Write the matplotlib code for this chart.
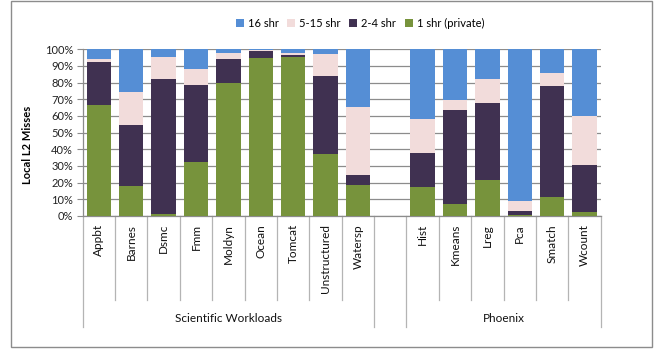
import matplotlib
matplotlib.use("Agg")
import matplotlib.pyplot as plt
from matplotlib.patches import Patch, Rectangle
from matplotlib.transforms import blended_transform_factory

# Benchmarks (an empty slot separates the two suites)
categories = ["Appbt", "Barnes", "Dsmc", "Fmm", "Moldyn", "Ocean", "Tomcat",
              "Unstructured", "Watersp", "",
              "Hist", "Kmeans", "Lreg", "Pca", "Smatch", "Wcount"]
groups = [("Scientific Workloads", 0, 8), ("Phoenix", 10, 15)]

# Share of local L2 misses (%) by number of sharers
private_1 = [66.6, 18.0, 1.2, 32.4, 79.8, 94.8, 95.4, 37.2, 18.6, 0,
             17.4, 7.2, 21.6, 0.6, 11.4, 2.4]
shr_2_4 = [25.8, 36.6, 81.0, 46.2, 14.4, 4.2, 1.2, 46.8, 6.0, 0,
           20.4, 56.4, 46.2, 2.4, 66.6, 28.2]
shr_5_15 = [1.8, 19.8, 13.2, 9.6, 3.6, 0.5, 1.2, 13.2, 40.8, 0,
            20.4, 6.0, 14.4, 6.0, 7.8, 29.4]
shr_16 = [5.8, 25.6, 4.6, 11.8, 2.2, 0.5, 2.2, 2.8, 34.6, 0,
          41.8, 30.4, 17.8, 91.0, 14.2, 40.0]

series = [("1 shr (private)", private_1, "#77933C"),
          ("2-4 shr", shr_2_4, "#403151"),
          ("5-15 shr", shr_5_15, "#F2DCDB"),
          ("16 shr", shr_16, "#558ED5")]

W, H = 662, 353
fig = plt.figure(figsize=(W / 100, H / 100), dpi=100)
plt.rcParams["font.family"] = ["Lato", "DejaVu Sans"]

def fx(px):
    return px / W

def fy(py):
    return 1 - py / H

left, right, top, bottom = 82.7, 600.7, 49.3, 216.0
ax = fig.add_axes([fx(left), fy(bottom), fx(right - left), (bottom - top) / H])

x = list(range(len(categories)))
base = [0.0] * len(categories)
for name, vals, color in series:
    ax.bar(x, vals, width=0.75, bottom=base, color=color, linewidth=0, zorder=3)
    base = [b + v for b, v in zip(base, vals)]

ax.set_xlim(-0.5, len(categories) - 0.5)
ax.set_ylim(0, 100)
ax.set_yticks(range(0, 101, 10))
ax.set_yticklabels([f"{v}%" for v in range(0, 101, 10)], fontsize=8, color="#222222")
ax.yaxis.grid(True, color="#8C8C8C", linewidth=0.9, zorder=0)
ax.set_axisbelow(True)
ax.tick_params(axis="y", length=4, width=0.8, color="#8C8C8C", pad=3)
ax.set_xticks([])
for side in ("top", "right"):
    ax.spines[side].set_visible(False)
for side in ("left", "bottom"):
    ax.spines[side].set_color("#8C8C8C")
    ax.spines[side].set_linewidth(0.9)

ax.set_ylabel("Local L2 Misses", fontsize=8, fontweight="bold")
ax.yaxis.set_label_coords(fx(33 - left) / fx(right - left), (bottom - 145) / (bottom - top))

# Two-level category axis drawn under the plot
trans = blended_transform_factory(ax.transData, fig.transFigure)
group_edges = {-0.5, 8.5, 9.5, 15.5}
for i in range(len(categories) + 1):
    xe = i - 0.5
    y_end = 327 if xe in group_edges else 300
    ax.plot([xe, xe], [fy(bottom), fy(y_end)], transform=trans, clip_on=False,
            color="#B4B4B4", linewidth=0.9)
for i, name in enumerate(categories):
    if name:
        ax.text(i, fy(224), name, transform=trans, rotation=90, ha="center",
                va="top", fontsize=8.5, color="#111111")
for name, a, b in groups:
    ax.text((a + b) / 2, fy(318), name, transform=trans, ha="center",
            va="center", fontsize=8.5, color="#111111")

# Legend along the top
handles = [Patch(facecolor=c, edgecolor="none", label=n) for n, _, c in reversed(series)]
fig.legend(handles=handles, loc="center", bbox_to_anchor=(fx(360), fy(23)), ncol=4,
           frameon=False, fontsize=8, handlelength=0.7, handleheight=0.7,
           handletextpad=0.35, columnspacing=0.8, borderaxespad=0)

# Chart border
fig.patches.append(Rectangle((fx(11), fy(347)), fx(652 - 11), (347 - 0.5) / H,
                             transform=fig.transFigure, fill=False,
                             edgecolor="#8C8C8C", linewidth=1.0))

fig.savefig("out.png", dpi=100)
